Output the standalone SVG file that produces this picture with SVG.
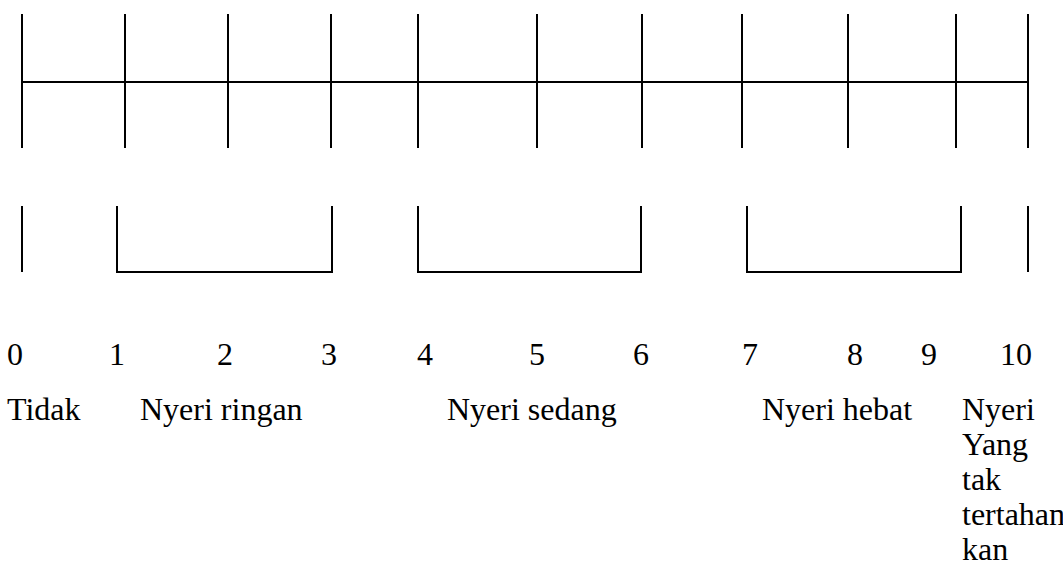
<svg xmlns="http://www.w3.org/2000/svg" width="1063" height="577" viewBox="0 0 1063 577">
<style>
.ln{stroke:#000;stroke-width:2;fill:none}
.t{font-family:"Liberation Serif","Times New Roman",serif;font-size:32px;fill:#000}
</style>
<rect width="1063" height="577" fill="#fff"/>
<g id="scale" class="ln">
<line x1="22" y1="82" x2="1029" y2="82"/>
<line x1="22" y1="14" x2="22" y2="148"/>
<line x1="125" y1="14" x2="125" y2="148"/>
<line x1="228" y1="14" x2="228" y2="148"/>
<line x1="331" y1="14" x2="331" y2="148"/>
<line x1="418" y1="14" x2="418" y2="148"/>
<line x1="537" y1="14" x2="537" y2="148"/>
<line x1="642" y1="14" x2="642" y2="148"/>
<line x1="742" y1="14" x2="742" y2="148"/>
<line x1="848" y1="14" x2="848" y2="148"/>
<line x1="956" y1="14" x2="956" y2="148"/>
<line x1="1028" y1="14" x2="1028" y2="148"/>
</g>
<g id="brackets" class="ln">
<line x1="22" y1="206" x2="22" y2="272"/>
<polyline points="117,206 117,272 332,272 332,206"/>
<polyline points="418,206 418,272 641,272 641,206"/>
<polyline points="747,206 747,272 961,272 961,206"/>
<line x1="1028" y1="206" x2="1028" y2="272"/>
</g>
<g id="numbers" class="t">
<text x="7" y="365">0</text>
<text x="109" y="365">1</text>
<text x="217" y="365">2</text>
<text x="321" y="365">3</text>
<text x="417" y="365">4</text>
<text x="529" y="365">5</text>
<text x="633" y="365">6</text>
<text x="742" y="365">7</text>
<text x="847" y="365">8</text>
<text x="921" y="365">9</text>
<text x="1000" y="365">10</text>
</g>
<g id="labels" class="t">
<text x="7" y="420">Tidak</text>
<text x="140" y="420">Nyeri ringan</text>
<text x="447" y="420">Nyeri sedang</text>
<text x="762" y="420">Nyeri hebat</text>
<text x="962" y="420">Nyeri</text>
<text x="962" y="455">Yang</text>
<text x="962" y="490">tak</text>
<text x="962" y="525">tertahan</text>
<text x="962" y="560">kan</text>
</g>
</svg>
